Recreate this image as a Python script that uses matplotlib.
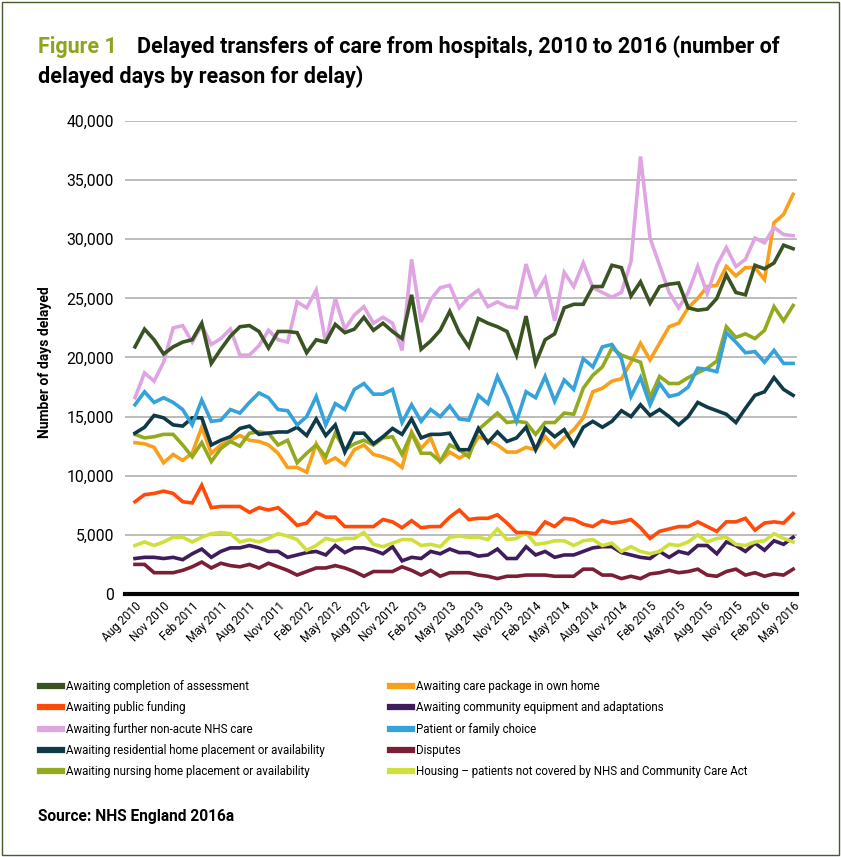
import matplotlib
matplotlib.use("Agg")
import matplotlib.pyplot as plt
from matplotlib.patches import Rectangle

plt.rcParams['font.family'] = ['Roboto', 'DejaVu Sans']

# monthly, Aug 2010 .. May 2016
tick_labels = ['Aug 2010', 'Nov 2010', 'Feb 2011', 'May 2011', 'Aug 2011', 'Nov 2011',
               'Feb 2012', 'May 2012', 'Aug 2012', 'Nov 2012', 'Feb 2013', 'May 2013',
               'Aug 2013', 'Nov 2013', 'Feb 2014', 'May 2014', 'Aug 2014', 'Nov 2014',
               'Feb 2015', 'May 2015', 'Aug 2015', 'Nov 2015', 'Feb 2016', 'May 2016']

assessment = [20900, 22400, 21500, 20300, 20900, 21300, 21500, 22900, 19500, 20700,
              21800, 22600, 22700, 22200, 20800, 22200, 22200, 22100, 20400, 21500,
              21300, 22800, 22100, 22400, 23400, 22300, 22900, 22200, 21600, 25300,
              20700, 21400, 22300, 23900, 22100, 20900, 23300, 22900, 22600, 22200,
              20200, 23500, 19500, 21500, 22000, 24200, 24500, 24500, 26000, 26000,
              27800, 27600, 25200, 26400, 24600, 26000, 26200, 26300, 24200, 24000,
              24100, 25000, 27000, 25500, 25300, 27800, 27500, 28000, 29500, 29200]
care_package = [12800, 12700, 12400, 11100, 11800, 11300, 11900, 14100, 11900, 12600,
                13000, 13400, 13000, 12900, 12600, 11900, 10700, 10700, 10300, 12700,
                11100, 11500, 10900, 12200, 12600, 11800, 11600, 11300, 10700, 13700,
                12300, 13200, 11200, 12000, 11500, 11900, 13300, 13000, 12600, 12000,
                12000, 12400, 12200, 13300, 12400, 13200, 13900, 14900, 17100, 17400,
                18000, 18200, 19600, 21200, 19800, 21200, 22600, 22900, 24200, 25000,
                26000, 26100, 27700, 26900, 27600, 27600, 26600, 31400, 32100, 33800]
public_funding = [7800, 8400, 8500, 8700, 8500, 7800, 7700, 9200, 7300, 7400,
                  7400, 7400, 6900, 7300, 7100, 7300, 6600, 5800, 6000, 6900,
                  6500, 6500, 5700, 5700, 5700, 5700, 6300, 6100, 5600, 6200,
                  5600, 5700, 5700, 6500, 7100, 6300, 6400, 6400, 6700, 6000,
                  5200, 5200, 5100, 6100, 5700, 6400, 6300, 5900, 5700, 6200,
                  6000, 6100, 6300, 5600, 4700, 5300, 5500, 5700, 5700, 6100,
                  5700, 5300, 6100, 6100, 6400, 5400, 6000, 6100, 6000, 6800]
community_equipment = [3000, 3100, 3100, 3000, 3100, 2900, 3400, 3800, 3100, 3600,
                       3900, 3900, 4100, 3900, 3600, 3600, 3100, 3300, 3500, 3600,
                       3300, 4100, 3500, 3900, 3900, 3700, 3400, 4000, 2800, 3100,
                       3000, 3600, 3400, 3800, 3500, 3500, 3200, 3300, 3800, 3000,
                       3000, 4000, 3300, 3600, 3100, 3300, 3300, 3600, 3900, 4000,
                       4000, 3500, 3300, 3100, 3000, 3600, 3100, 3600, 3400, 4100,
                       4100, 3400, 4400, 4100, 3600, 4300, 3700, 4500, 4200, 4800]
non_acute_nhs = [16600, 18700, 18000, 19600, 22500, 22700, 21300, 22700, 21100, 21600,
                 22400, 20200, 20200, 21000, 22300, 21500, 21300, 24700, 24200, 25700,
                 21200, 25000, 22400, 23600, 24300, 22900, 23400, 22900, 20600, 28300,
                 23000, 24900, 25900, 26100, 24200, 25100, 25700, 24300, 24700, 24300,
                 24200, 27900, 25300, 26700, 23100, 27200, 26000, 28000, 25900, 25500,
                 25100, 25500, 28100, 37000, 30100, 27800, 25500, 24200, 25500, 27700,
                 25400, 27800, 29300, 27700, 28300, 30100, 29700, 31000, 30400, 30300]
patient_choice = [16000, 17100, 16200, 16600, 16200, 15600, 14300, 16400, 14600, 14700,
                  15600, 15300, 16200, 17000, 16600, 15600, 15500, 14300, 15000, 16700,
                  14300, 16100, 15600, 17300, 17800, 16900, 16900, 17300, 14500, 16000,
                  14600, 15600, 15000, 15900, 14800, 14700, 16800, 16100, 18400, 16700,
                  14600, 17100, 16600, 18400, 16300, 18100, 17300, 19900, 19200, 20900,
                  21100, 19900, 16700, 18300, 16000, 17800, 16700, 16900, 17500, 19100,
                  19000, 18800, 22100, 21300, 20400, 20500, 19600, 20600, 19500, 19500]
residential = [13600, 14100, 15100, 14900, 14300, 14200, 14900, 14900, 12600, 13000,
               13300, 14000, 14200, 13500, 13600, 13700, 13700, 14100, 13400, 14800,
               13400, 14300, 12000, 13600, 13600, 12700, 13300, 14000, 13500, 14800,
               13200, 13500, 13500, 13600, 12200, 12200, 14000, 12800, 13700, 12900,
               13200, 14100, 12200, 14000, 13300, 13900, 12600, 14100, 14600, 14100,
               14600, 15500, 15000, 16000, 15100, 15600, 15000, 14300, 15000, 16200,
               15800, 15500, 15200, 14500, 15700, 16800, 17100, 18300, 17300, 16800]
disputes = [2500, 2500, 1800, 1800, 1800, 2000, 2300, 2700, 2200, 2600,
            2400, 2300, 2500, 2200, 2600, 2300, 2000, 1600, 1900, 2200,
            2200, 2400, 2200, 1900, 1500, 1900, 1900, 1900, 2300, 2000,
            1600, 2000, 1500, 1800, 1800, 1800, 1600, 1500, 1300, 1500,
            1500, 1600, 1600, 1600, 1500, 1500, 1500, 2100, 2100, 1600,
            1600, 1300, 1500, 1300, 1700, 1800, 2000, 1800, 1900, 2100,
            1600, 1500, 1900, 2100, 1600, 1800, 1500, 1700, 1600, 2100]
nursing = [13500, 13200, 13300, 13500, 13500, 12600, 11600, 12800, 11200, 12300,
           12900, 12500, 13600, 13700, 13600, 12600, 13000, 11100, 11900, 12600,
           11600, 13600, 12200, 12700, 13000, 12600, 13200, 13300, 11800, 13600,
           11900, 11900, 11200, 12600, 12200, 11600, 13900, 14600, 15300, 14500,
           14600, 14500, 13500, 14500, 14500, 15300, 15200, 17400, 18500, 19200,
           20800, 20200, 19900, 19600, 16600, 18400, 17800, 17800, 18300, 18700,
           19100, 19700, 22600, 21700, 22000, 21600, 22300, 24300, 23100, 24400]
housing = [4100, 4400, 4100, 4400, 4800, 4800, 4400, 4800, 5100, 5200,
           5100, 4400, 4600, 4400, 4700, 5100, 4900, 4600, 3700, 4100,
           4700, 4500, 4700, 4700, 5200, 4200, 4000, 4300, 4600, 4600,
           4100, 4200, 4000, 4800, 4900, 4800, 4800, 4600, 5500, 4600,
           4700, 5200, 4200, 4300, 4500, 4500, 4100, 4500, 4600, 4100,
           4300, 3600, 4000, 3600, 3400, 3600, 4200, 4100, 4400, 5000,
           4400, 4700, 4800, 4200, 4100, 4400, 4500, 5100, 4700, 4400]

months = list(range(len(assessment)))

fig = plt.figure(figsize=(8.41, 8.57), dpi=100)
fig.patches.append(Rectangle((0.002, 0.002), 0.996, 0.996, transform=fig.transFigure,
                             fill=False, edgecolor='#4b5a2e', lw=1.0))
ax = fig.add_axes([0.1486, 0.3069, 0.799, 0.5519])

lw = 2.6
left_col = [
    (assessment, '#3a5322', 'Awaiting completion of assessment'),
    (public_funding, '#ff4a0a', 'Awaiting public funding'),
    (non_acute_nhs, '#dfa5e3', 'Awaiting further non-acute NHS care'),
    (residential, '#0f3b48', 'Awaiting residential home placement or availability'),
    (nursing, '#93aa1e', 'Awaiting nursing home placement or availability'),
]
right_col = [
    (care_package, '#f9a01b', 'Awaiting care package in own home'),
    (community_equipment, '#3f1d5c', 'Awaiting community equipment and adaptations'),
    (patient_choice, '#36a2da', 'Patient or family choice'),
    (disputes, '#7a1f35', 'Disputes'),
    (housing, '#cfe03a', 'Housing \u2013 patients not covered by NHS and Community Care Act'),
]
series = left_col + right_col
draw_order = [8, 6, 9, 1, 5, 4, 3, 7, 2, 0]
handles = [None] * len(series)
for k in draw_order:
    vals, col, lab = series[k]
    handles[k], = ax.plot(months, vals, color=col, lw=lw, label=lab, solid_joinstyle='miter')

ax.set_ylim(0, 40000)
ax.set_xlim(-1.05, 69.4)
ax.set_yticks(range(0, 40001, 5000))
ax.set_yticklabels([f'{v:,}' for v in range(0, 40001, 5000)], fontsize=11.3)
ax.set_xticks(months[::3])
ax.set_xticklabels(tick_labels, rotation=45, ha='right', va='top',
                   rotation_mode='anchor', fontsize=8.5)
ax.tick_params(axis='both', length=0)
ax.tick_params(axis='y', pad=8)
ax.tick_params(axis='x', pad=4)
ax.grid(axis='y', color='#b0b0b0', lw=1.2)
ax.set_axisbelow(True)
for s in ['top', 'right', 'left']:
    ax.spines[s].set_visible(False)
ax.spines['bottom'].set_linewidth(3)
ax.spines['bottom'].set_color('black')
ax.set_ylabel('Number of days delayed', fontsize=10, fontweight='bold')
ax.yaxis.set_label_coords(-0.108, 0.49)

leg_kw = dict(loc='upper left', frameon=False, fontsize=8.3, handlelength=1.9,
              handletextpad=0.35, labelspacing=0.72, borderaxespad=0, borderpad=0)
leg1 = fig.legend(handles=handles[:5], bbox_to_anchor=(40 / 841, 1 - 680 / 857), **leg_kw)
leg2 = fig.legend(handles=handles[5:], bbox_to_anchor=(390 / 841, 1 - 680 / 857), **leg_kw)
for lg in (leg1, leg2):
    for h in lg.get_lines():
        h.set_linewidth(4.5)

fig.text(38 / 841, 0.938, 'Figure 1', color='#8fa31f', fontsize=15.5, fontweight='bold')
fig.text(137 / 841, 0.938, 'Delayed transfers of care from hospitals, 2010 to 2016 (number of',
         color='black', fontsize=15.5, fontweight='bold')
fig.text(38 / 841, 0.903, 'delayed days by reason for delay)', color='black', fontsize=15.5,
         fontweight='bold')
fig.text(38 / 841, 0.042, 'Source: NHS England 2016a', fontsize=11.2, fontweight='bold')

fig.savefig('out.png', dpi=100)
